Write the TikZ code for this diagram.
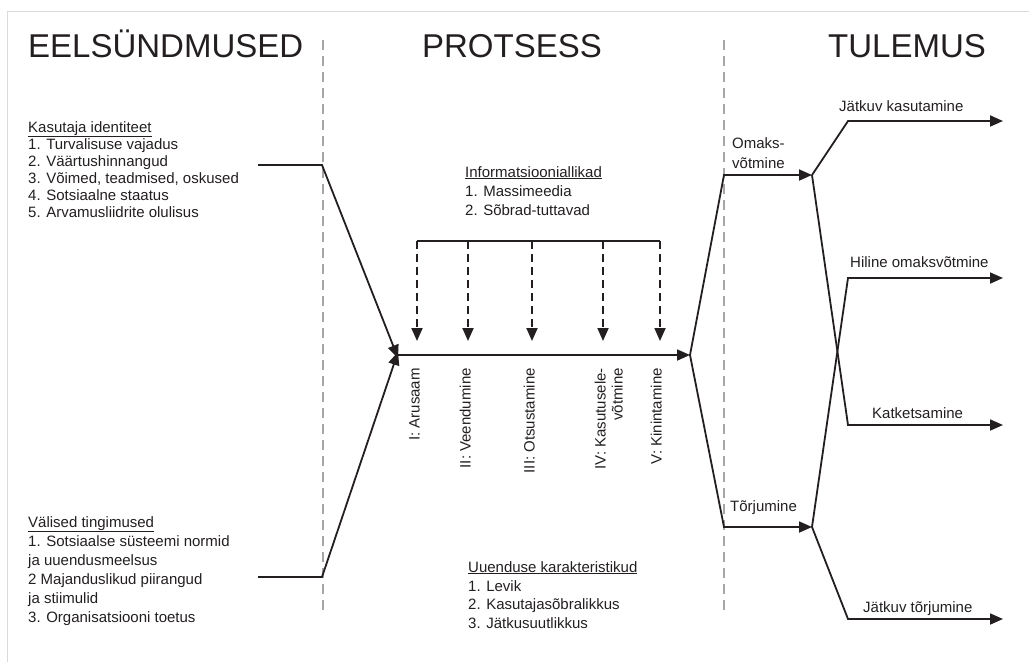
\documentclass[tikz,border=0pt]{standalone}
\usepackage{fontspec}
\setmainfont{Liberation Sans}
\usetikzlibrary{arrows.meta}
\definecolor{ink}{HTML}{231F20}
\definecolor{dgray}{HTML}{A6A6A6}
\definecolor{bgray}{HTML}{DADADA}
\begin{document}
\begin{tikzpicture}[x=1pt,y=-1pt,
  every node/.style={inner sep=0pt, text=ink},
  txt/.style={font=\fontsize{15}{17}\selectfont, anchor=base west},
  head/.style={font=\fontsize{33}{40}\selectfont, anchor=base west},
  vlab/.style={font=\fontsize{15}{17}\selectfont, rotate=90, anchor=mid east},
  flow/.style={draw=ink, line width=1.8pt},
  arr/.style={flow, -{Triangle[length=13pt,width=11pt]}},
  darr/.style={draw=ink, line width=1.8pt, dash pattern=on 8pt off 5pt, -{Triangle[length=13pt,width=11pt]}},
  sep/.style={draw=dgray, line width=1.6pt, dash pattern=on 10pt off 6pt},
  frame/.style={draw=bgray, line width=1pt}]
\useasboundingbox (0,0) rectangle (1029,662);
% frame lines
\draw[frame] (7,662) -- (7,11) -- (1029,11);
% separators
\draw[sep] (323,40) -- (323,612);
\draw[sep] (724,40) -- (724,612);
% headings
\node[head] (h1) at (28,57) {EELSÜNDMUSED};
\node[head, anchor=base] (h2) at (512,57) {PROTSESS};
\node[head, anchor=base] (h3) at (907,57) {TULEMUS};
% left block 1
\node[txt] (k0) at (28,132) {\underline{Kasutaja identiteet}};
\node[txt] (k1) at (28,149) {1. Turvalisuse vajadus};
\node[txt] (k2) at (28,166) {2. Väärtushinnangud};
\node[txt] (k3) at (28,183) {3. Võimed, teadmised, oskused};
\node[txt] (k4) at (28,200) {4. Sotsiaalne staatus};
\node[txt] (k5) at (28,217) {5. Arvamusliidrite olulisus};
% left block 2
\node[txt] (v0) at (28,527) {\underline{Välised tingimused}};
\node[txt] (v1) at (28,546) {1. Sotsiaalse süsteemi normid};
\node[txt] (v2) at (28,565) {ja uuendusmeelsus};
\node[txt] (v3) at (28,584) {2 Majanduslikud piirangud};
\node[txt] (v4) at (28,603) {ja stiimulid};
\node[txt] (v5) at (28,622) {3. Organisatsiooni toetus};
% info sources
\node[txt] (i0) at (465,177) {\underline{Informatsiooniallikad}};
\node[txt] (i1) at (465,196) {1. Massimeedia};
\node[txt] (i2) at (465,215) {2. Sõbrad-tuttavad};
% innovation characteristics
\node[txt] (u0) at (468,572) {\underline{Uuenduse karakteristikud}};
\node[txt] (u1) at (468,591) {1. Levik};
\node[txt] (u2) at (468,609) {2. Kasutajasõbralikkus};
\node[txt] (u3) at (468,628) {3. Jätkusuutlikkus};
% stage labels
\node[vlab] (s1) at (417,368) {I: Arusaam};
\node[vlab] (s2) at (468,368) {II: Veendumine};
\node[vlab] (s3) at (532,368) {III: Otsustamine};
\node[vlab] (s4a) at (603,368) {IV: Kasutusele-};
\node[vlab] (s4b) at (620,368) {võtmine};
\node[vlab] (s5) at (659,368) {V: Kinintamine};
% outcome labels
\node[txt] (o1) at (732,148) {Omaks-};
\node[txt] (o2) at (732,168) {võtmine};
\node[txt] (t1) at (730,511) {Tõrjumine};
\node[txt] (r1) at (839,111) {Jätkuv kasutamine};
\node[txt] (r2) at (850,267) {Hiline omaksvõtmine};
\node[txt] (r3) at (872,418) {Katketsamine};
\node[txt] (r4) at (863,612) {Jätkuv tõrjumine};
% coordinates
\coordinate (a1) at (258,165);
\coordinate (a1b) at (322,165);
\coordinate (a2) at (258,577);
\coordinate (a2b) at (322,577);
\coordinate (m0) at (398,355);
\coordinate (m1) at (690,355);
\coordinate (ob) at (724,175);
\coordinate (oj) at (812,175);
\coordinate (tb) at (724,527);
\coordinate (tj) at (812,527);
\coordinate (e1) at (848,121); \coordinate (f1) at (1003,121);
\coordinate (e2) at (848,278); \coordinate (f2) at (1003,278);
\coordinate (e3) at (848,425); \coordinate (f3) at (1003,425);
\coordinate (e4) at (848,619); \coordinate (f4) at (1003,619);
\coordinate (b1) at (417,241);
\coordinate (b5) at (660,241);
% input arrows
\draw[arr] (a1) -- (a1b) -- ([yshift=-3pt]m0);
\draw[arr] (a2) -- (a2b) -- ([yshift=3pt]m0);
% main process arrow
\draw[arr] (m0) -- (m1);
% info bracket
\draw[flow] (b1) -- (b5);
\foreach \x in {417,468,532,603,660} \draw[darr] (\x,241) -- (\x,341);
% outcomes
\draw[arr] (m1) -- (ob) -- (oj);
\draw[arr] (m1) -- (tb) -- (tj);
\draw[arr] (oj) -- (e1) -- (f1);
\draw[arr] (oj) -- (e3) -- (f3);
\draw[arr] (tj) -- (e2) -- (f2);
\draw[arr] (tj) -- (e4) -- (f4);
\end{tikzpicture}
\end{document}
